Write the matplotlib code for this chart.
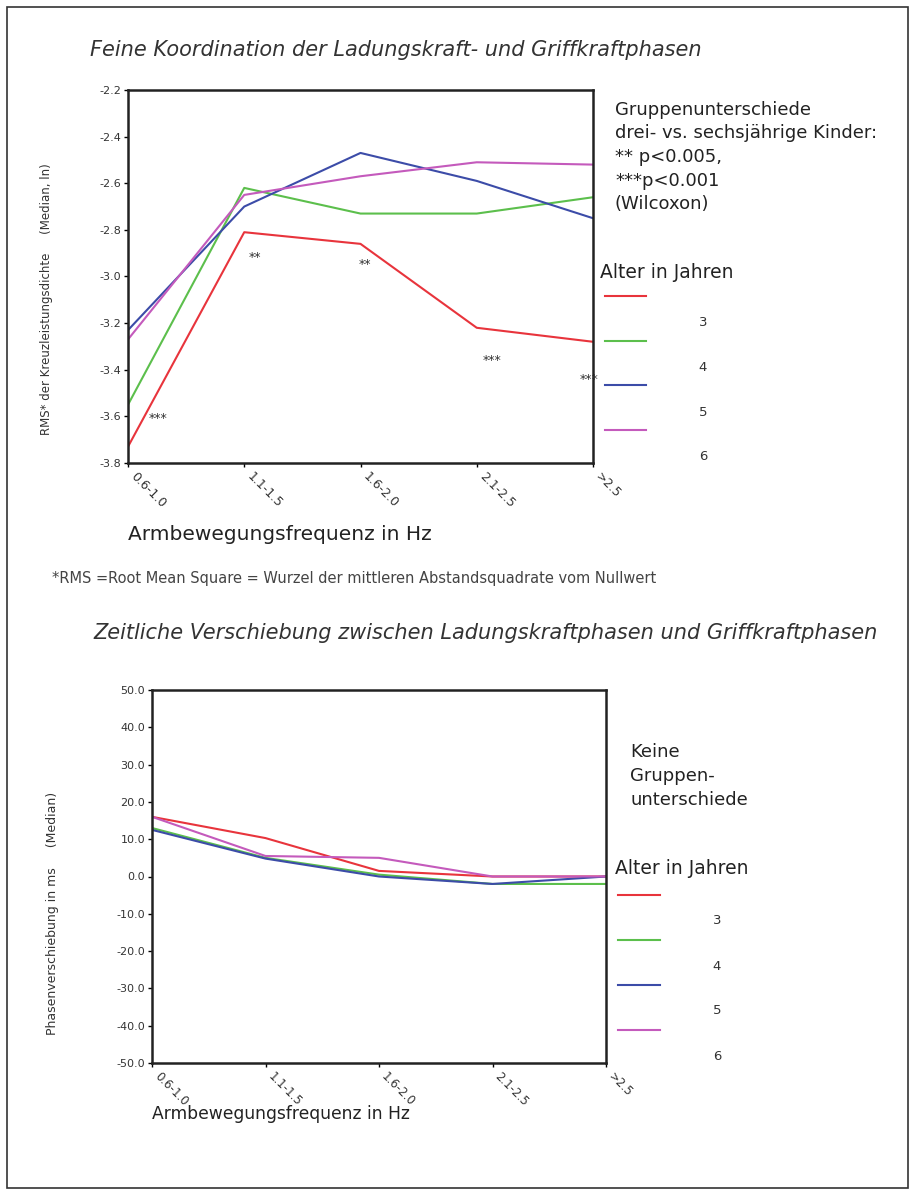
import matplotlib
matplotlib.use('Agg')
import matplotlib.pyplot as plt
from matplotlib.lines import Line2D
from matplotlib.patches import Rectangle
from matplotlib.transforms import ScaledTranslation

plt.rcParams['font.family'] = ['DejaVu Sans']

# Frequenzklassen der Armbewegung
kategorien = ['0.6-1.0', '1.1-1.5', '1.6-2.0', '2.1-2.5', '>2.5']
alter = ['3', '4', '5', '6']
farben = ['#e8343c', '#5cbf4c', '#3c4ca8', '#c45abc']

# RMS der Kreuzleistungsdichte (Median, ln) je Altersgruppe
rms_3 = [-3.73, -2.81, -2.86, -3.22, -3.28]
rms_4 = [-3.55, -2.62, -2.73, -2.73, -2.66]
rms_5 = [-3.23, -2.70, -2.47, -2.59, -2.75]
rms_6 = [-3.27, -2.65, -2.57, -2.51, -2.52]

# Phasenverschiebung in ms (Median) je Altersgruppe
phase_3 = [16.0, 10.3, 1.5, 0.0, 0.0]
phase_4 = [13.0, 5.0, 0.5, -2.0, -2.0]
phase_5 = [12.5, 4.8, 0.0, -2.0, 0.0]
phase_6 = [16.0, 5.5, 5.0, 0.0, 0.0]

# Signifikanzsterne (Kategorie-Position, Wert)
sterne_text = ['***', '**', '**', '***', '***']
sterne_x = [0.26, 1.09, 2.04, 3.13, 3.97]
sterne_y = [-3.61, -2.92, -2.95, -3.36, -3.44]

W, H = 914, 1194
fig = plt.figure(figsize=(W / 100, H / 100), dpi=100)


def box(l, t, r, b):
    return [l / W, 1 - b / H, (r - l) / W, (b - t) / H]


def ftext(x, y, s, **kw):
    fig.text(x / W, 1 - y / H, s, **kw)


def style_axes(ax, yticks, yfmt, xsize):
    ax.set_xlim(0, len(kategorien) - 1)
    ax.set_xticks(range(len(kategorien)))
    ax.set_xticklabels([])
    # schraege Kategorienbeschriftung, leicht nach rechts versetzt
    versatz = ScaledTranslation(9 / 100, -7 / 100, fig.dpi_scale_trans)
    for i, k in enumerate(kategorien):
        ax.text(i, 0, k, transform=ax.get_xaxis_transform() + versatz,
                rotation=-45, ha='left', va='top', rotation_mode='anchor',
                fontsize=xsize, color='#333333', clip_on=False)
    ax.set_yticks(yticks)
    ax.set_yticklabels([yfmt.format(v) for v in yticks], fontsize=8,
                       color='#333333')
    ax.tick_params(axis='y', direction='out', length=3, width=1, pad=2)
    ax.tick_params(axis='x', direction='out', length=3, width=1)
    for sp in ax.spines.values():
        sp.set_linewidth(1.8)
        sp.set_color('#222222')


# --- oberes Diagramm ---
ax1 = fig.add_axes(box(128, 90, 593, 463))
for werte, c in zip([rms_3, rms_4, rms_5, rms_6], farben):
    ax1.plot(range(len(kategorien)), werte, color=c, lw=1.5)
ax1.set_ylim(-3.8, -2.2)
style_axes(ax1, [-3.8 + 0.2 * i for i in range(9)], '{:.1f}', 9)
for s, x, y in zip(sterne_text, sterne_x, sterne_y):
    ax1.text(x, y, s, fontsize=9, ha='center', va='center', color='#333333')
ax1.set_ylabel('RMS* der Kreuzleistungsdichte     (Median, ln)', fontsize=8.5,
               color='#333333')
ax1.yaxis.set_label_coords(-0.162, 0.44)

ftext(396, 50, 'Feine Koordination der Ladungskraft- und Griffkraftphasen',
      fontsize=15, style='italic', ha='center', va='center', color='#333333')
ftext(128, 535, 'Armbewegungsfrequenz in Hz', fontsize=14.5, ha='left',
      va='center', color='#222222')

rechts = ['Gruppenunterschiede', 'drei- vs. sechsjährige Kinder:',
          '** p<0.005,', '***p<0.001', '(Wilcoxon)']
for i, s in enumerate(rechts):
    ftext(615, 110 + 23.5 * i, s, fontsize=13, ha='left', va='center',
          color='#222222')

ftext(600, 272, 'Alter in Jahren', fontsize=13.5, ha='left', va='center',
      color='#222222')
for i, (a, c) in enumerate(zip(alter, farben)):
    y = 296 + 44.5 * i
    fig.add_artist(Line2D([605 / W, 646 / W], [1 - y / H, 1 - y / H],
                          color=c, lw=1.5))
    ftext(703, y + 27, a, fontsize=9.5, ha='center', va='center', color='#333333')

ftext(52, 578, '*RMS =Root Mean Square = Wurzel der mittleren '
      'Abstandsquadrate vom Nullwert', fontsize=10.5, ha='left', va='center',
      color='#444444')

# --- unteres Diagramm ---
ax2 = fig.add_axes(box(152, 690, 606, 1063))
for werte, c in zip([phase_3, phase_4, phase_5, phase_6], farben):
    ax2.plot(range(len(kategorien)), werte, color=c, lw=1.5)
ax2.set_ylim(-50, 50)
style_axes(ax2, [-50 + 10 * i for i in range(11)], '{:.1f}', 8.5)
ax2.set_ylabel('Phasenverschiebung in ms     (Median)', fontsize=9,
               color='#333333')
ax2.yaxis.set_label_coords(-0.205, 0.40)

ftext(486, 633, 'Zeitliche Verschiebung zwischen Ladungskraftphasen und '
      'Griffkraftphasen', fontsize=15, style='italic', ha='center',
      va='center', color='#333333')
ftext(152, 1114, 'Armbewegungsfrequenz in Hz', fontsize=12.3, ha='left',
      va='center', color='#222222')

for i, s in enumerate(['Keine', 'Gruppen-', 'unterschiede']):
    ftext(630, 752 + 24 * i, s, fontsize=13, ha='left', va='center',
          color='#222222')

ftext(615, 868, 'Alter in Jahren', fontsize=13.5, ha='left', va='center',
      color='#222222')
for i, (a, c) in enumerate(zip(alter, farben)):
    y = 895 + 45 * i
    fig.add_artist(Line2D([618 / W, 660 / W], [1 - y / H, 1 - y / H],
                          color=c, lw=1.5))
    ftext(717, y + 26, a, fontsize=9.5, ha='center', va='center', color='#333333')

# Seitenrahmen
fig.add_artist(Rectangle((7 / W, 1 - 1188 / H), 901 / W, 1181 / H,
                         transform=fig.transFigure, fill=False,
                         edgecolor='#333333', lw=1.2))

fig.savefig('out.png', dpi=100)
